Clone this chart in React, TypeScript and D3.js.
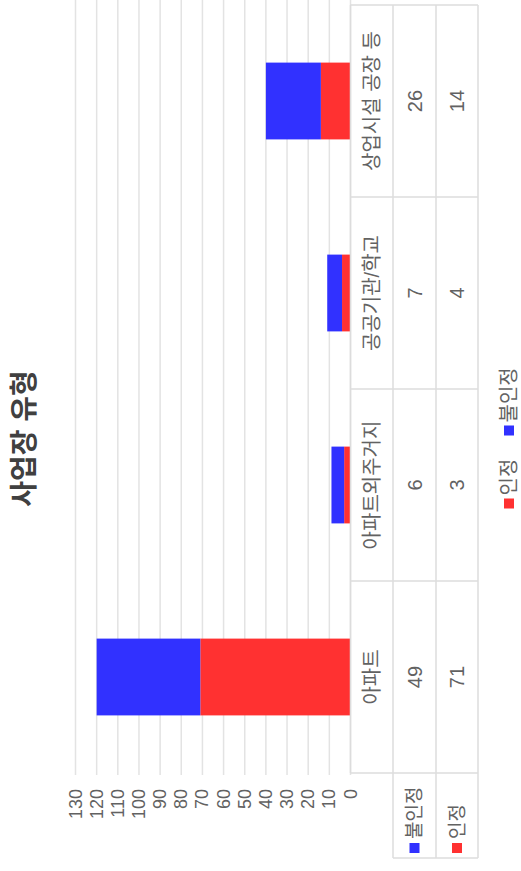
import React from "react";
import * as d3 from "d3";

// 사업장 유형별 인정/불인정 건수
const categories = ["아파트", "아파트외주거지", "공공기관/학교", "상업시설 공장 등"];
const seriesNames = ["불인정", "인정"];
const notApproved = [49, 6, 7, 26];
const approved = [71, 3, 4, 14];
const yTicks = [0, 10, 20, 30, 40, 50, 60, 70, 80, 90, 100, 110, 120, 130];
const colors: Record<string, string> = { 인정: "#ff3131", 불인정: "#3131ff" };

const W = 871;
const H = 521;
const FONT = "'Liberation Sans', 'Noto Sans CJK KR', sans-serif";
const TEXT = "#626262";
const GRID = "#e3e3e3";
const BORDER = "#dcdcdc";

export default function App() {
  const rows = categories.map((c, i) => ({
    category: c,
    인정: approved[i],
    불인정: notApproved[i],
  }));
  const stacked = d3.stack<any>().keys(["인정", "불인정"])(rows);

  const x = d3.scaleBand<string>().domain(categories).range([98, 866]).paddingInner(0).paddingOuter(0);
  const y = d3.scaleLinear().domain([0, 130]).range([350.5, 75.5]);
  const barW = x.bandwidth() * 0.4;

  // table geometry (in chart coordinates)
  const tTop = y(0);
  const rowLines = [tTop, 393, 436, 478];
  const legendLeft = 13;
  const colEdges = [98, ...categories.map((c) => (x(c) as number) + x.bandwidth())];
  const rowMid = (k: number) => (rowLines[k] + rowLines[k + 1]) / 2;
  const rowValues: Record<string, number[]> = { 불인정: notApproved, 인정: approved };

  // bottom legend layout: square, small gap, label, wider gap
  const legendItems = ["인정", "불인정"];
  const lf = 20;
  const widths = legendItems.map((s) => 10 + 3 + s.length * lf);
  const gap = 20;
  const totalW = widths.reduce((a, b) => a + b, 0) + gap;
  let lx = W / 2 - totalW / 2;
  const legendPos = legendItems.map((s, i) => {
    const p = lx;
    lx += widths[i] + gap;
    return p;
  });

  return (
    <svg
      width={521}
      height={871}
      style={{ position: "absolute", left: 0, top: 0, background: "#fff" }}
      fontFamily={FONT}
    >
      <g transform={`translate(0,${W}) rotate(-90)`}>
        <rect x={0} y={0} width={W} height={H} fill="#fff" />
        <text
          x={W / 2 - 3}
          y={24}
          textAnchor="middle"
          dominantBaseline="central"
          fontSize={28}
          fontWeight="bold"
          fill="#404040"
        >
          사업장 유형
        </text>

        {/* gridlines */}
        {yTicks.map((t) => (
          <line key={t} x1={96} x2={W} y1={y(t)} y2={y(t)} stroke={GRID} strokeWidth={1.5} />
        ))}
        {yTicks.map((t) => (
          <text
            key={"l" + t}
            x={82}
            y={y(t)}
            textAnchor="end"
            dominantBaseline="central"
            fontSize={18}
            fill={TEXT}
          >
            {t}
          </text>
        ))}

        {/* stacked bars */}
        {stacked.map((layer) => (
          <g key={layer.key} fill={colors[layer.key]}>
            {layer.map((d, i) => (
              <rect
                key={i}
                x={(x(categories[i]) as number) + (x.bandwidth() - barW) / 2}
                y={y(d[1])}
                width={barW}
                height={y(d[0]) - y(d[1])}
              />
            ))}
          </g>
        ))}

        {/* data table */}
        <g stroke={BORDER} strokeWidth={1.5}>
          <line x1={98} x2={866} y1={tTop} y2={tTop} />
          {rowLines.slice(1).map((v, k) => (
            <line key={k} x1={legendLeft} x2={866} y1={v} y2={v} />
          ))}
          {colEdges.map((u, k) => (
            <line key={"c" + k} x1={u} x2={u} y1={tTop} y2={rowLines[3]} />
          ))}
          <line x1={legendLeft} x2={legendLeft} y1={rowLines[1]} y2={rowLines[3]} />
        </g>
        {categories.map((c) => (
          <text
            key={c}
            x={(x(c) as number) + x.bandwidth() / 2}
            y={rowMid(0)}
            textAnchor="middle"
            dominantBaseline="central"
            fontSize={20}
            fill={TEXT}
          >
            {c}
          </text>
        ))}
        {seriesNames.map((s, r) => (
          <g key={s}>
            <rect x={legendLeft + 5} y={rowMid(r + 1) - 5} width={10} height={10} fill={colors[s]} />
            <text x={legendLeft + 19} y={rowMid(r + 1)} dominantBaseline="central" fontSize={19} fill={TEXT}>
              {s}
            </text>
            {categories.map((c, i) => (
              <text
                key={c}
                x={(x(c) as number) + x.bandwidth() / 2}
                y={rowMid(r + 1)}
                textAnchor="middle"
                dominantBaseline="central"
                fontSize={20}
                fill={TEXT}
              >
                {rowValues[s][i]}
              </text>
            ))}
          </g>
        ))}

        {/* legend */}
        {legendItems.map((s, i) => (
          <g key={s} transform={`translate(${legendPos[i]},509)`}>
            <rect x={0} y={-5} width={10} height={10} fill={colors[s]} />
            <text x={13} y={0} dominantBaseline="central" fontSize={lf} fill={TEXT}>
              {s}
            </text>
          </g>
        ))}
      </g>
    </svg>
  );
}
